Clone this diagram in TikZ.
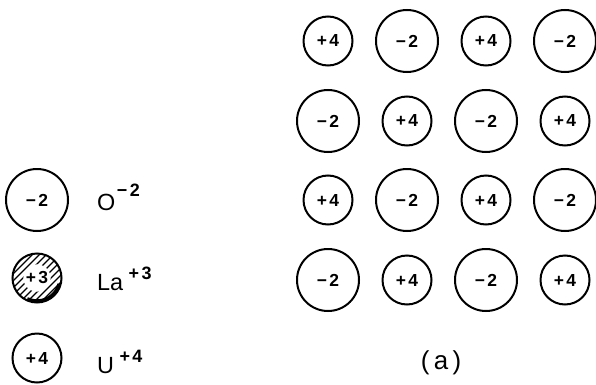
\documentclass[tikz,border=0pt]{standalone}
\usepackage{fontspec}
\setmainfont{Liberation Sans}
\usepackage{tikz}
\usetikzlibrary{positioning,calc}
\tikzset{
  ion/.style={circle,draw,line width=2bp,inner sep=0pt,
    font=\bfseries\fontsize{17.5}{17.5}\selectfont},
  anion/.style={ion,minimum size=62bp},
  cation/.style={ion,minimum size=49bp},
  laion/.style={ion,minimum size=49bp},
  hatch/.style={line width=1.2bp},
  legtext/.style={anchor=base west,inner sep=0pt,
    font=\fontsize{23.5}{23.5}\selectfont},
  capt/.style={anchor=base,inner sep=0pt,
    font=\fontsize{26}{26}\selectfont}
}
\newcommand{\chg}[2]{#1\kern2.5bp#2}
\newcommand{\ionsup}[2][11bp]{\kern1.5bp\raisebox{#1}{\bfseries\fontsize{18}{18}\selectfont #2}}

\begin{document}
\begin{tikzpicture}[x=1bp,y=1bp,on grid]
  \useasboundingbox (0,0) rectangle (596,384);

  % Legend (top to bottom)
  \node[anion] (l1) at (37,184) {\chg{−}{2}};
  \node[laion,below=78bp of l1] (l2) {};
  \node[cation,below=80bp of l2] (l3) {\chg{+}{4}};

  % Hatching of the La ion
  \begin{scope}
    \clip (l2.center) circle (24bp);
    \foreach \k in {-56,-49,...,56}
      \draw[hatch] ($(l2.center)+(\k-30,-30)$) -- ++(60,60);
  \end{scope}
  \draw[line width=3.5bp] (l2.center) ++(-115:23bp)
    arc[start angle=-115,end angle=-15,radius=23bp];
  \node[ion,draw=none,fill=white,inner sep=0.6bp] (l2t) at (l2) {\chg{+}{3}};

  % Legend texts
  \node[legtext] (o) at (97,174) {O\ionsup[14bp]{\chg{−}{2}}};
  \node[legtext] (la) at (97,94) {La\,\ionsup{\chg{+}{3}}};
  \node[legtext] (u) at (97,11) {U\,\ionsup{\chg{+}{4}}};

  % Lattice, rows top to bottom
  \foreach \r/\y in {1/343,2/263,3/184,4/104}
    \foreach \c/\x in {1/328,2/407,3/486,4/565} {
      \pgfmathtruncatemacro{\odd}{mod(\r+\c,2)}
      \ifnum\odd=0
        \node[cation] (g\r\c) at (\x,\y) {\chg{+}{4}};
      \else
        \node[anion] (g\r\c) at (\x,\y) {\chg{−}{2}};
      \fi
    }

  % Caption
  \node[capt] (cap) at (441,15) {(\,a\,)};
\end{tikzpicture}
\end{document}
